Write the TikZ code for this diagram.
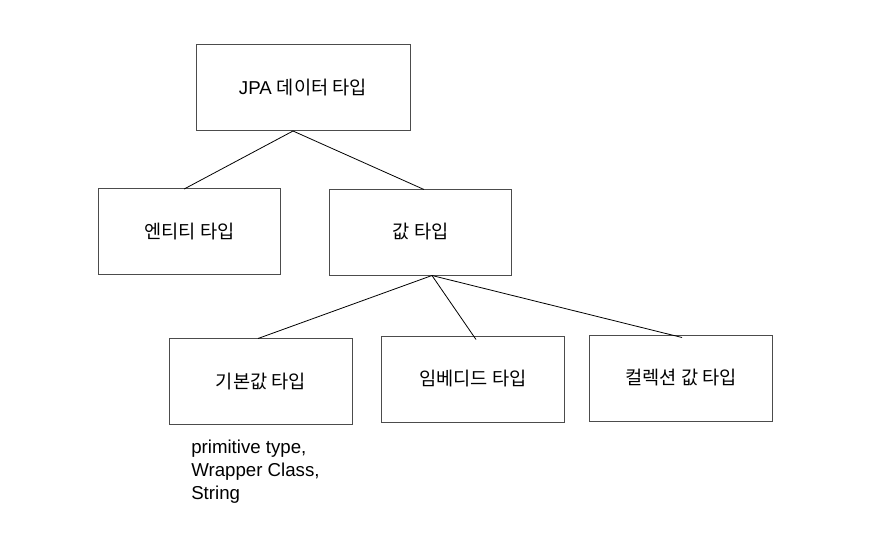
\documentclass[tikz,border=0pt]{standalone}
\usepackage{fontspec}
\setmainfont{Liberation Sans}
\newfontfamily\krfont{Noto Sans CJK KR}
\begin{document}
\begin{tikzpicture}[x=0.75pt,y=0.75pt,yscale=-1,
		typebox/.style={draw=black!70, line width=0.75pt, minimum width=137pt, minimum height=64.5pt, inner sep=0pt, font=\fontsize{14}{16}\selectfont},
		link/.style={draw=black, line width=0.6pt}]
			\useasboundingbox (0,0) rectangle (895,536);
			
			%Shape: Rectangle [id:jpa] 
			\node [typebox, minimum width=160.5pt] (jpa) at (303,87.5) {JPA \krfont 데이터 타입};
			%Shape: Rectangle [id:entity] 
			\node [typebox] (entity) at (189.5,231.5) {\krfont 엔티티 타입};
			%Shape: Rectangle [id:value] 
			\node [typebox] (value) at (420.5,232) {\krfont 값 타입};
			%Shape: Rectangle [id:basic] 
			\node [typebox] (basic) at (261,381) {\krfont 기본값 타입};
			%Shape: Rectangle [id:embedded] 
			\node [typebox] (embedded) at (473,379) {\krfont 임베디드 타입};
			%Shape: Rectangle [id:collection] 
			\node [typebox] (collection) at (681,378) {\krfont 컬렉션 값 타입};
			
			%Straight Lines [id:jpa-entity] 
			\draw [link] ([xshift=-7.5pt]jpa.south) -- ([xshift=-4pt,yshift=0.75pt]entity.north) ;
			%Straight Lines [id:jpa-value] 
			\draw [link] ([xshift=-7.5pt]jpa.south) -- ([xshift=2.6pt,yshift=0.75pt]value.north) ;
			%Straight Lines [id:value-basic] 
			\draw [link] ([xshift=8.6pt]value.south) -- ([xshift=-2.25pt,yshift=0.75pt]basic.north) ;
			%Straight Lines [id:value-embedded] 
			\draw [link] ([xshift=8.6pt]value.south) -- ([xshift=2.25pt,yshift=3pt]embedded.north) ;
			%Straight Lines [id:value-collection] 
			\draw [link] ([xshift=8.6pt]value.south) -- ([xshift=0.75pt,yshift=2.25pt]collection.north) ;
			
			% Text Node
			\node [anchor=north west, inner sep=0pt, align=left, font=\fontsize{14}{17.5}\selectfont] (note) at (191,439.5) {primitive type,\\Wrapper Class,\\String};
			
		\end{tikzpicture}
\end{document}
